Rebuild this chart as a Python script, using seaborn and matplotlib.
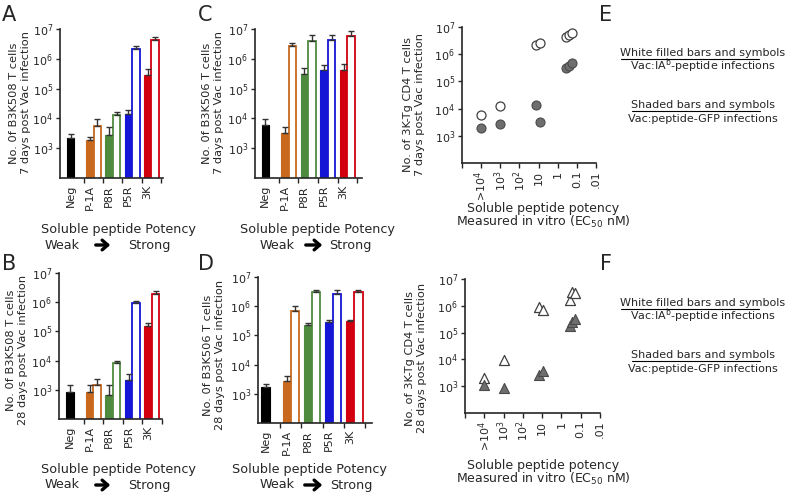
import numpy as np
import pandas as pd
import matplotlib
matplotlib.use("Agg")
import matplotlib.pyplot as plt
import seaborn as sns
from matplotlib.ticker import NullLocator, FixedLocator
from matplotlib.lines import Line2D

# --- data ---
groups = ["Neg", "P-1A", "P8R", "P5R", "3K"]
group_colors = ["#000000", "#C8691E", "#4F8B3F", "#1515D6", "#D2000F"]

# panel A: B3K508, 7 days
A_shaded = [2.2e3, 1.9e3, 2.8e3, 1.4e4, 2.8e5]
A_shaded_err = [0.7e3, 0.5e3, 2.2e3, 0.46e4, 1.6e5]
A_open = [5.6e3, 1.26e4, 2.1e6, 4.2e6]
A_open_err = [4.2e3, 0.4e4, 0.5e6, 1.2e6]

# panel B: B3K508, 28 days
B_shaded = [830, 870, 690, 2.2e3, 1.5e5]
B_shaded_err = [670, 630, 810, 1.2e3, 0.5e5]
B_open = [1.5e3, 8.0e3, 9.3e5, 1.9e6]
B_open_err = [0.9e3, 2.0e3, 1.7e5, 0.6e6]

# panel C: B3K506, 7 days
C_shaded = [5.9e3, 3.3e3, 3.2e5, 4.2e5, 4.2e5]
C_shaded_err = [3.9e3, 1.7e3, 1.6e5, 2.0e5, 2.3e5]
C_open = [2.6e6, 4.1e6, 4.2e6, 5.9e6]
C_open_err = [0.9e6, 2.2e6, 2.1e6, 2.4e6]

# panel D: B3K506, 28 days
D_shaded = [1.7e3, 2.8e3, 2.3e5, 2.8e5, 3.0e5]
D_shaded_err = [0.4e3, 1.3e3, 0.3e5, 0.6e5, 0.5e5]
D_open = [7.1e5, 3.0e6, 2.7e6, 3.0e6]
D_open_err = [2.7e5, 0.6e6, 0.9e6, 0.6e6]

# panels E/F: 3K-Tg CD4 T cells vs EC50 (nM)
ec50 = [1e4, 1e3, 14, 8.7, 0.38, 0.27, 0.19]
E_open = [5.8e3, 1.28e4, 2.1e6, 2.6e6, 4.3e6, 5.0e6, 6.0e6]
E_shaded = [2.0e3, 2.75e3, 1.4e4, 3.3e3, 3.0e5, 3.6e5, 4.7e5]
F_open = [2.0e3, 9.4e3, 8.9e5, 7.0e5, 1.7e6, 3.2e6, 2.9e6]
F_shaded = [1.1e3, 8.5e2, 2.7e3, 3.8e3, 1.7e5, 2.4e5, 3.3e5]
ec50_ticks = [1e5, 1e4, 1e3, 1e2, 1e1, 1, 1e-1, 1e-2]
ec50_labels = ["", ">10$^4$", "10$^3$", "10$^2$", "10", "1", "0.1", ".01"]

sns.set_style("ticks")
plt.rcParams["font.family"] = ["DejaVu Sans"]
plt.rcParams["axes.linewidth"] = 1.2

W, H = 794, 492
fig = plt.figure(figsize=(W / 100, H / 100), dpi=100)


def px_axes(l, t, r, b):
    return fig.add_axes([l / W, 1 - b / H, (r - l) / W, (b - t) / H])


def bar_frame(shaded, shaded_err, opn, opn_err):
    rows = []
    for g, v, e in zip(groups, shaded, shaded_err):
        rows.append(dict(group=g, kind="shaded", value=v, err=e))
    for g, v, e in zip(groups[1:], opn, opn_err):
        rows.append(dict(group=g, kind="open", value=v, err=e))
    return pd.DataFrame(rows)


def bar_panel(ax, df, xlim):
    sns.barplot(data=df, x="group", y="value", hue="kind", order=groups,
                hue_order=["shaded", "open"], dodge=True, width=0.77, gap=0,
                log_scale=True, errorbar=None, legend=False, ax=ax)
    for p in ax.patches:
        xc = p.get_x() + p.get_width() / 2
        gi = int(round(xc))
        kind = "shaded" if xc < gi else "open"
        col = group_colors[gi]
        if kind == "shaded":
            p.set_facecolor(col)
            p.set_edgecolor(col)
            p.set_linewidth(0.8)
        else:
            p.set_facecolor("white")
            p.set_edgecolor(col)
            p.set_linewidth(1.3)
        row = df[(df.group == groups[gi]) & (df.kind == kind)].iloc[0]
        ax.errorbar(xc, row.value, yerr=[[0], [row.err]], fmt="none",
                    ecolor="#333333", elinewidth=1, capsize=2, capthick=1,
                    zorder=1)
    ax.set_yscale("log")
    ax.set_ylim(1e2, 1e7)
    ax.set_yticks([1e3, 1e4, 1e5, 1e6, 1e7])
    ax.yaxis.set_minor_locator(NullLocator())
    ax.set_xlim(*xlim)
    ax.set_xticks([0.5, 1.5, 2.5, 3.5, 4.5], labels=[""] * 5)
    ax.set_xticks(np.arange(5) - 0.2, labels=groups, minor=True)
    ax.tick_params(axis="x", which="minor", length=0, rotation=90, labelsize=8, pad=5)
    ax.tick_params(axis="x", which="major", length=3.5, width=1)
    ax.tick_params(axis="y", length=3, width=1, labelsize=8, pad=2)
    ax.set_xlabel("")
    ax.set_ylabel("")
    sns.despine(ax=ax)


def scatter_panel(ax, opn, shaded, marker, size):
    sns.scatterplot(x=ec50, y=opn, ax=ax, marker=marker, s=size,
                    color="white", edgecolor="#404040", linewidth=0.9)
    sns.scatterplot(x=ec50, y=shaded, ax=ax, marker=marker, s=size,
                    color="#6e6e6e", edgecolor="#4a4a4a", linewidth=0.8)
    ax.set_xscale("log")
    ax.set_yscale("log")
    ax.set_xlim(1e5, 1e-2)
    ax.set_ylim(1e2, 1e7)
    ax.set_yticks([1e3, 1e4, 1e5, 1e6, 1e7])
    ax.yaxis.set_minor_locator(NullLocator())
    ax.xaxis.set_major_locator(FixedLocator(ec50_ticks))
    ax.set_xticklabels(ec50_labels)
    ax.xaxis.set_minor_locator(NullLocator())
    ax.tick_params(axis="x", length=3.5, width=1, labelsize=8, rotation=90, pad=2)
    ax.tick_params(axis="y", length=3, width=1, labelsize=8, pad=2)
    sns.despine(ax=ax)


axA = px_axes(60, 29, 163, 178)
bar_panel(axA, bar_frame(A_shaded, A_shaded_err, A_open, A_open_err), (-0.74, 4.6))
axB = px_axes(59, 273, 162, 419)
bar_panel(axB, bar_frame(B_shaded, B_shaded_err, B_open, B_open_err), (-0.76, 4.52))
axC = px_axes(255, 29, 362, 178)
bar_panel(axC, bar_frame(C_shaded, C_shaded_err, C_open, C_open_err), (-0.72, 4.75))
axD = px_axes(258, 277, 372, 423)
bar_panel(axD, bar_frame(D_shaded, D_shaded_err, D_open, D_open_err), (-0.55, 4.83))

axE = px_axes(462, 27, 596, 163)
scatter_panel(axE, E_open, E_shaded, "o", 42)
axF = px_axes(465, 279, 600, 413)
scatter_panel(axF, F_open, F_shaded, "^", 52)


def ftext(x, y, s, **kw):
    fig.text(x / W, 1 - y / H, s, **kw)


# panel letters
for letter, x, y in [("A", 9, 15), ("B", 9, 264), ("C", 205, 15),
                     ("D", 206, 264), ("E", 606, 15), ("F", 606, 264)]:
    ftext(x, y, letter, fontsize=15, ha="center", va="center")

# y labels
ylab = dict(rotation=90, ha="center", va="center", fontsize=8.2,
            multialignment="center", linespacing=1.2)
ftext(20, 103, "No. 0f B3K508 T cells\n7 days post Vac infection", **ylab)
ftext(17, 350, "No. 0f B3K508 T cells\n28 days post Vac infection", **ylab)
ftext(213, 103, "No. 0f B3K506 T cells\n7 days post Vac infection", **ylab)
ftext(214, 355, "No. 0f B3K506 T cells\n28 days post Vac infection", **ylab)
ftext(414, 105, "No. of 3K-Tg CD4 T cells\n7 days post Vac infection", **ylab)
ftext(416, 358, "No. of 3K-Tg CD4 T cells\n28 days post Vac infection", **ylab)

# potency annotations under bar panels
for cx, y1, wx, ax0, ax1, sx in [(118, 230, 62, 93, 113, 149),
                                 (118, 470, 62, 93, 113, 149),
                                 (317, 230, 277, 303, 325, 350),
                                 (309, 470, 277, 302, 325, 351)]:
    ftext(cx, y1, "Soluble peptide Potency", fontsize=9.2, ha="center", va="center")
    ftext(wx, y1 + 15, "Weak", fontsize=9.2, ha="center", va="center")
    ftext(sx, y1 + 15, "Strong", fontsize=9.2, ha="center", va="center")
    fig.add_artist(matplotlib.patches.FancyArrowPatch(
        (ax0 / W, 1 - (y1 + 15) / H), (ax1 / W, 1 - (y1 + 15) / H),
        transform=fig.transFigure, arrowstyle="->,head_length=4,head_width=3.5",
        lw=2.4, color="black", mutation_scale=1))

for cx, y1 in [(543, 208), (543, 465)]:
    ftext(cx, y1, "Soluble peptide potency", fontsize=9, ha="center", va="center")
    ftext(cx, y1 + 14, "Measured in vitro (EC$_{50}$ nM)", fontsize=9,
          ha="center", va="center")

# key text on the right
for top in [53, 303]:
    ftext(703, top, "White filled bars and symbols", fontsize=8, ha="center", va="center")
    ftext(703, top + 13, "Vac:IA$^{\\mathregular{b}}$-peptide infections", fontsize=8,
          ha="center", va="center")
    ftext(703, top + 52, "Shaded bars and symbols", fontsize=8, ha="center", va="center")
    ftext(703, top + 66, "Vac:peptide-GFP infections", fontsize=8, ha="center", va="center")
    fig.add_artist(Line2D([621 / W, 759 / W], [1 - (top + 6) / H] * 2, color="black", lw=0.8))
    fig.add_artist(Line2D([632 / W, 760 / W], [1 - (top + 58) / H] * 2, color="black", lw=0.8))

fig.savefig("out.png", dpi=100)
